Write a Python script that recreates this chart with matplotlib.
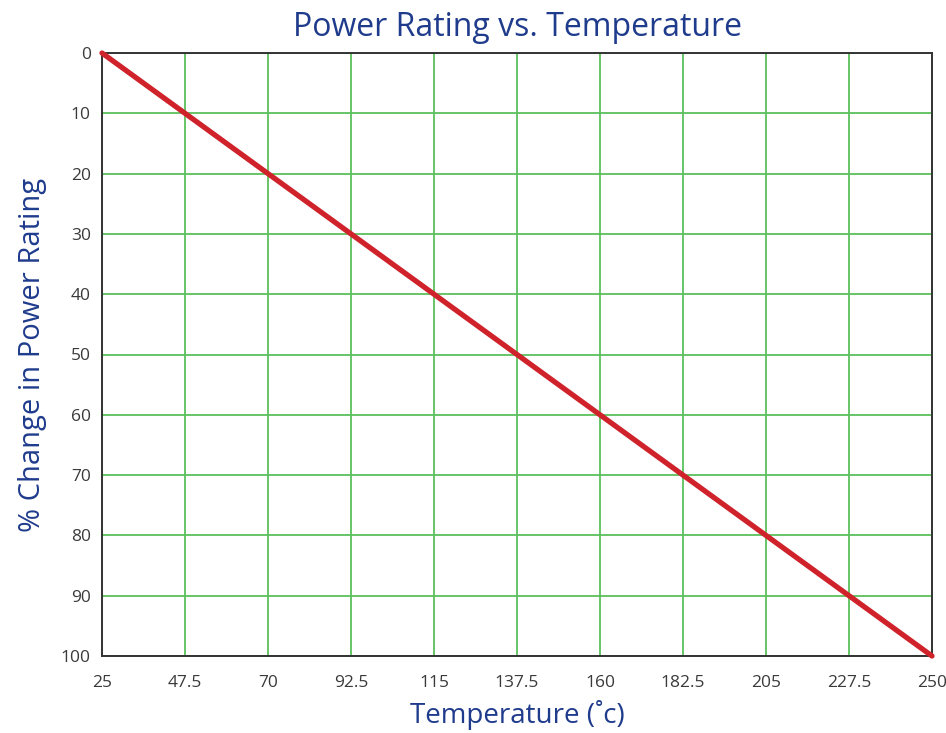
import numpy as np
import matplotlib.pyplot as plt

temperature = [25, 250]
pct_change = [0, 100]
x_ticks = [25, 47.5, 70, 92.5, 115, 137.5, 160, 182.5, 205, 227.5, 250]
x_tick_labels = ['25', '47.5', '70', '92.5', '115', '137.5', '160', '182.5', '205', '227.5', '250']
y_ticks = [0, 10, 20, 30, 40, 50, 60, 70, 80, 90, 100]

plt.rcParams['font.family'] = ['Open Sans', 'DejaVu Sans']

fig = plt.figure(figsize=(9.46, 7.33), dpi=100)
ax = fig.add_axes([102 / 946, 1 - 656 / 733, 830 / 946, 603 / 733])

ax.plot(temperature, pct_change, color='#d0222b', lw=3.8, solid_capstyle='round', zorder=3, clip_on=False)

ax.set_xlim(25, 250)
ax.set_ylim(100, 0)
ax.set_xticks(x_ticks)
ax.set_xticklabels(x_tick_labels)
ax.set_yticks(y_ticks)
ax.grid(True, color='#5cbf5c', lw=1.3)
ax.set_axisbelow(True)
ax.tick_params(length=0, labelsize=12.5, labelcolor='#3a3a3a')
ax.tick_params(axis='x', pad=14)
ax.tick_params(axis='y', pad=8)
for s in ax.spines.values():
    s.set_color('#333333')
    s.set_linewidth(1.4)

blue = '#1f3b8c'
ax.set_title('Power Rating vs. Temperature', fontsize=23, color=blue, pad=12)
ax.set_xlabel('Temperature (˚c)', fontsize=20, color=blue, labelpad=6)
ax.set_ylabel('% Change in Power Rating', fontsize=21, color=blue, labelpad=10)

fig.savefig('out.png', dpi=100)
